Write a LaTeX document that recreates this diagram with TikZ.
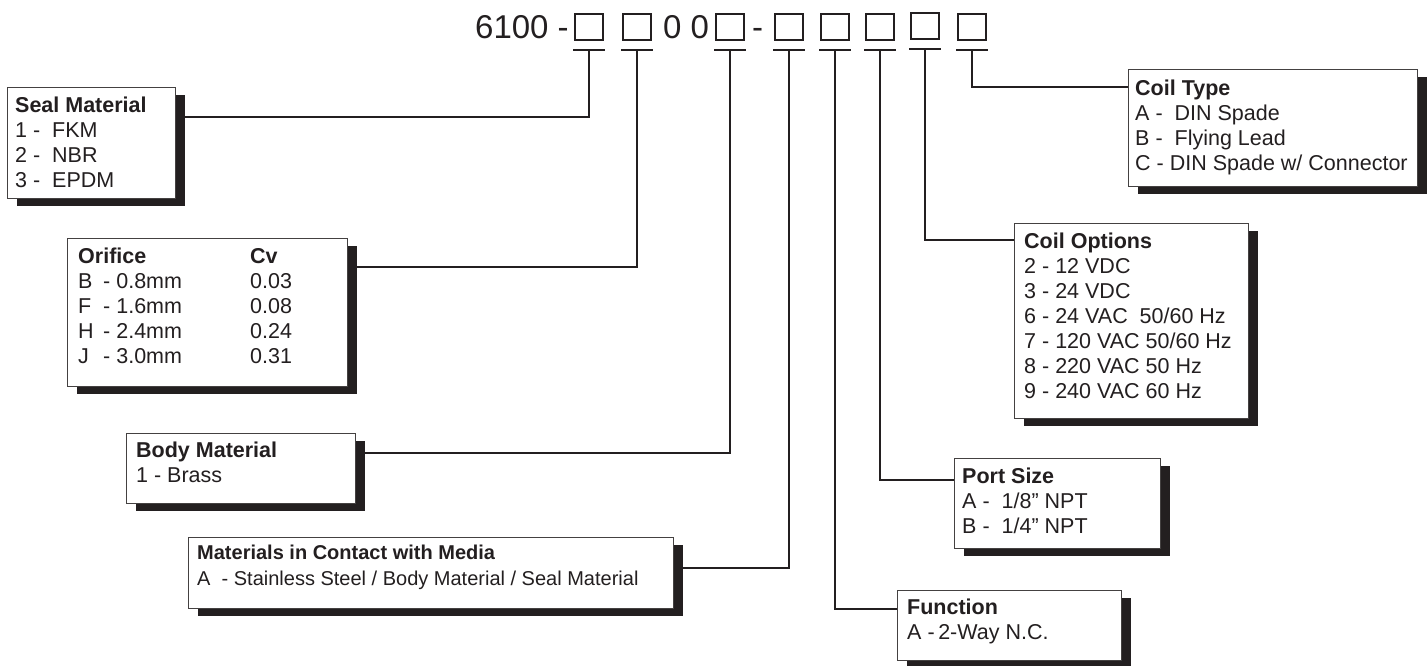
\documentclass[tikz,border=0pt]{standalone}
\usepackage{fontspec}
\setmainfont{Liberation Sans}
\definecolor{ink}{HTML}{231F20}
\tikzset{
  box/.style={draw=ink!85, line width=1.1pt, fill=white, anchor=north west, inner sep=0pt},
  shad/.style={fill=ink, draw=none, anchor=north west, inner sep=0pt},
  conn/.style={draw=ink, line width=2.3pt},
  sq/.style={draw=ink, line width=2.2pt, minimum width=28pt, minimum height=26pt, anchor=north west, inner sep=0pt},
  bar/.style={draw=ink, line width=2.5pt},
  codetxt/.style={anchor=base west, inner sep=0pt, font=\fontsize{33}{33}\selectfont, text=ink},
  btxt/.style={anchor=base west, inner sep=0pt, text=ink}
}
\newcommand{\infobox}[5]{%
  \node[shad, minimum width=#4pt, minimum height=#5pt] (#1s) at (#2+10,#3+8) {};
  \node[box, minimum width=#4pt, minimum height=#5pt] (#1) at (#2,#3) {};
}
\newcommand{\boxtext}[1]{\fontsize{21.5}{25}\selectfont\begin{tabular}[t]{@{}l@{}}#1\end{tabular}}
\begin{document}
\begin{tikzpicture}[x=1pt,y=-1pt]
\useasboundingbox (0,0) rectangle (1427,665);
% ---- code line ----
\node[codetxt] (c6100) at (475,38) {6100 -};
\node[codetxt] (c00) at (663,38) {0 0};
\node[codetxt] (cdash) at (752,38) {-};
\foreach \i/\x/\y in {1/574/13, 2/622/13, 3/715/13, 4/774/13, 5/820/13, 6/865/13, 7/910/12, 8/957/13} {
  \node[sq] (s\i) at (\x,\y) {};
  \draw[bar] ([xshift=-1pt,yshift=-9pt]s\i.south west) -- ([xshift=1pt,yshift=-9pt]s\i.south east);
  \coordinate (b\i) at ([yshift=-9pt]s\i.south);
}
% ---- boxes ----
\infobox{seal}{7}{87}{168}{111}
\infobox{orif}{67}{238}{280}{148}
\infobox{body}{126}{433}{229}{70}
\infobox{mat}{188}{537}{485}{71}
\infobox{ctype}{1128}{69}{289}{117}
\infobox{copt}{1014}{223}{234}{195}
\infobox{port}{954}{458}{206}{90}
\infobox{func}{897}{590}{224}{70}
% ---- texts ----
\node[btxt] (sealt) at (15,112) {\boxtext{\textbf{Seal Material}\\1 -\ \ FKM\\2 -\ \ NBR\\3 -\ \ EPDM}};
\node[btxt] (orift) at (78,263) {\fontsize{21.5}{25}\selectfont\begin{tabular}[t]{@{}p{25pt}@{}p{147pt}@{}l@{}}
\multicolumn{2}{@{}l@{}}{\textbf{Orifice}} & \textbf{Cv}\\
B & - 0.8mm & 0.03\\
F & - 1.6mm & 0.08\\
H & - 2.4mm & 0.24\\
J & - 3.0mm & 0.31
\end{tabular}};
\node[btxt] (bodyt) at (136,457) {\boxtext{\textbf{Body Material}\\1 - Brass}};
\node[btxt] (matt) at (197,559) {\fontsize{20}{26}\selectfont\begin{tabular}[t]{@{}l@{}}\textbf{Materials in Contact with Media}\\A\ \ -\ Stainless Steel / Body Material / Seal Material\end{tabular}};
\node[btxt] (ctypet) at (1135,95) {\boxtext{\textbf{Coil Type}\\A -\ \ DIN Spade\\B -\ \ Flying Lead\\C - DIN Spade w/ Connector}};
\node[btxt] (coptt) at (1024,248) {\boxtext{\textbf{Coil Options}\\2 - 12 VDC\\3 - 24 VDC\\6 - 24 VAC\ \ 50/60 Hz\\7 - 120 VAC 50/60 Hz\\8 - 220 VAC 50 Hz\\9 - 240 VAC 60 Hz}};
\node[btxt] (portt) at (962,483) {\boxtext{\textbf{Port Size}\\A -\ \ 1/8” NPT\\B -\ \ 1/4” NPT}};
\node[btxt] (funct) at (907,614) {\boxtext{\textbf{Function}\\A\ -\,2-Way N.C.}};
% ---- connectors ----
\draw[conn] (b1) |- (seals.east |- 0,117);
\draw[conn] (b2) |- (orifs.east |- 0,267);
\draw[conn] (b3) |- (bodys.east |- 0,453);
\draw[conn] (b4) |- (mats.east |- 0,568);
\draw[conn] (b5) |- (func.west |- 0,609);
\draw[conn] (b6) |- (port.west |- 0,480);
\draw[conn] (b7) |- (copt.west |- 0,240);
\draw[conn] (b8) |- (ctype.west |- 0,87);
\end{tikzpicture}
\end{document}
